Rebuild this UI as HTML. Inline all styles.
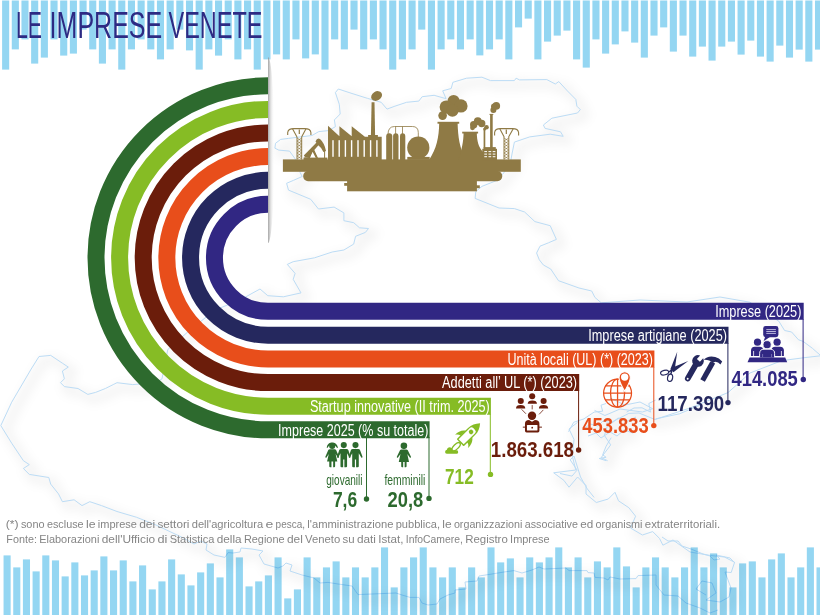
<!DOCTYPE html>
<html lang="it"><head><meta charset="utf-8"><title>Le imprese venete</title>
<style>html,body{margin:0;padding:0;background:#fff}svg{display:block}text{font-family:"Liberation Sans",sans-serif}</style></head><body>
<svg width="820" height="615" viewBox="0 0 820 615">
<defs>
<linearGradient id="fold" x1="0" x2="1" y1="0" y2="0">
<stop offset="0" stop-color="#fff" stop-opacity="0"/>
<stop offset="0.5" stop-color="#8f8f8f" stop-opacity="0"/>
<stop offset="0.5" stop-color="#8f8f8f" stop-opacity="0.8"/>
<stop offset="1" stop-color="#fff" stop-opacity="0"/>
</linearGradient>
<clipPath id="foldclip"><rect x="268" y="50" width="10" height="200"/></clipPath>
<filter id="mapsh" x="-10%" y="-10%" width="120%" height="120%"><feGaussianBlur stdDeviation="5"/></filter>
</defs>

<rect width="820" height="615" fill="#fff"/>
<g fill="none" stroke-linejoin="round">
<path d="M338.3,89 L352,93.5 L367.6,98.4 L381.2,102.3 L387,109.1 L394.9,106.2 L406.6,102.3 L418.8,101.1 L422.2,96.7 L434.1,95.3 L446.1,98.7 L442.7,90.8 L451.2,88.5 L452.9,82.3 L466.6,78.2 L481.9,77.2 L490.5,80.6 L514.4,80.6 L516.1,78.2 L519.5,79.9 L546.8,79.6 L555.3,84 L558.8,81.6 L567.3,90.8 L575.8,99.4 L576.9,106.2 L580.3,109.6 L577.5,113 L551.9,118.2 L543.4,125 L545.1,128.4 L560.5,131.8 L563.2,136.3 L550.2,134.2 L529.7,136.9 L514.4,142.1 L512,154 L510,165 L502.4,174.5 L499,179.6 L481.9,186.4 L475.8,191.6 L475.1,198.4 L499,208 L514.4,208.6 L524.6,212 L534.9,221.6 L550.2,225.7 L556.4,239.4 L548.5,242.8 L540,246.2 L536.6,253 L539.3,259.8 L543.4,265 L550.7,269 L558.5,280.7 L579,288 L591.7,291 L594.9,297.4 L601.2,302.8 L640,300 L687,302 L720,297 L749.8,302.2 L778.8,321.2 L784.6,330.5 L791.6,332 L798.5,339.8 L803,341.3 L812.4,348.3 L820.5,355.4 M338.3,89 L335.4,92.6 L339.3,104.3 L340.2,114 L334.4,119.9 L335.4,126.7 L328.5,130.6 L318.8,131.6 L312,135.5 L288.5,138.4 L280.7,139.4 L275.5,143.3 L274.9,148.2 L278.8,150.1 L289.5,151.1 L296,160 L300.2,172.6 L302.2,176.5 L293.4,180.4 L286.6,183.3 L288.5,190.1 L310.7,199.3 L318.5,209 L334.1,207.1 L343.9,212.9 L343.9,220.7 L353.7,222.7 L359.5,227.8 L368.5,228.5 L365.4,232.4 L355.6,236.3 L353.7,244.1 L343.9,250 L332.2,252 L314.6,257.8 L293.2,261.7 L287.3,264.4 L295.1,273.4 L293.2,279.3 L301,292.9 L283.4,296.8 L267.8,295.7 L260,289 L240,300 L215,310 L190,330 L167.8,349.5 L163.9,369 L162,378.8 L156,382.7 L132.7,384.6 L117,382.7 L113.2,384.6 L105.4,388.5 L95.6,392.4 L87.8,394.4 L78,388.5 L64.4,386.6 L60.5,382.7 L64.4,378.8 L62.4,371 L68.3,367.1 L62.4,363.2 L50.7,355.4 L39,356.5 L31.2,369 L11.7,402.2 L0.8,425.6 L11.7,443.2 L23.4,460.7 L29.3,464.6 L23.4,468.5 L29.3,474.4 L48.8,477.5 L50.7,484.1 L58.5,493.9 L62.4,501.7 L74.1,499.8 L82,505.6 L89.8,501.7 L101.5,505.6 L117,511.5 L136.6,517.3 L156,525 L183.4,538 L194,544 L201,541 L207,544 L206,550 L214,555 L225,557.4 L228,552.6 L233,553 L240,552 L241,548 L252,549 L263,551 L259,555 L264,564 L278,568 L283,566 L286,563 L292,565 L290,571 L302,575 L314,578 L320,583 L328,582.4 L338,584 L352,586 L358,594.6 L396,593 L402,595 L410,597.4 L419,597.4 L422,603 L428,605 L437,604 L440,599 L448,595 L455,593 L455,590 L466,589 L465,582 L477,581 L479,576 L492,574 L504,572 L514,570.6 L522,573 L532,570 L539,567 L544,569 L566,568 L569,570.6 L587,570.6 L588,572.6 L594,573 L595,577.4 L604,578 L608,580 L610,577 L620,579 L636,578.6 L638,575.6 L656,575 L656,585 L664,595 L678,596 L686,603 L700,608 L710,613 L718,610 M577.6,422.3 L569,429 L574,439.4 L572.4,456.5 L575.8,470 L553.7,472.8 L563.9,480.4 L569,487.2 L577.6,477 L586,485.5 L586,494 L596.3,502.5 L608.3,499 L615,492.3 L618.5,500.8 L628.8,507.7 L635.6,516.2 L630.5,528 L642.4,535 L652.7,531.6 L659.5,538.4 L662.9,545.2 L673,540 L680,545 L690,552 L710.7,555.5 L724.4,557 L734.6,562.3 L731.2,572.5 L725,572 L731,588 L729,597 L720,602 L706,600 L716,593 L712,583 L702,581 L696,589 L706,595 M607.6,460.7 L601.2,457.6 L610.7,444.9 L604.4,435.4 L608,424 L628.8,413.4 L639,413 L655,419.5 L690,408 L728,392.6 L750,373 L782,360.6 L805,357.6 L820.5,355.8 M594.6,410.4 L604.9,415.5 L620,409 L642.4,412 L652.7,408.7 L640,402 L625,405 L610,398 M662,537 L668,541 L678,541 L682,546 L691,549 L703,554 L710,556 L714,560 L720,559 L716,555 L730,558 L735,563 M568.5,431.7 L573.7,422.3 L583.9,418.9 L594.1,412.1 L602.7,411.2 L601,405.2 L606.1,403.5 M626.6,412.1 L634,408 L642,407.8 L650.5,412.1 L648.8,403.5 L655.6,400.1 M611.2,437.7 L606.1,446.2 L602.7,454.8 L606.1,457.3 L599.3,458.5 L606.1,460.7 M655.6,418.9 L679.5,413.8 L700,405.2 M560,473.5 L572,476.1 L577.1,470.1 L570.2,459.9 L574,456 L580.5,477 L587.3,488.9 L594.1,497.4 M585,428 L590,424 L598,426 L603,421 L612,423 L618,418 L628,421 L636,417 M588,436 L596,433 L601,438 L610,432 L617,436 L624,430 L633,433" stroke="#000" stroke-opacity="0.04" stroke-width="10" filter="url(#mapsh)" transform="translate(5,5)"/>
<path d="M338.3,89 L352,93.5 L367.6,98.4 L381.2,102.3 L387,109.1 L394.9,106.2 L406.6,102.3 L418.8,101.1 L422.2,96.7 L434.1,95.3 L446.1,98.7 L442.7,90.8 L451.2,88.5 L452.9,82.3 L466.6,78.2 L481.9,77.2 L490.5,80.6 L514.4,80.6 L516.1,78.2 L519.5,79.9 L546.8,79.6 L555.3,84 L558.8,81.6 L567.3,90.8 L575.8,99.4 L576.9,106.2 L580.3,109.6 L577.5,113 L551.9,118.2 L543.4,125 L545.1,128.4 L560.5,131.8 L563.2,136.3 L550.2,134.2 L529.7,136.9 L514.4,142.1 L512,154 L510,165 L502.4,174.5 L499,179.6 L481.9,186.4 L475.8,191.6 L475.1,198.4 L499,208 L514.4,208.6 L524.6,212 L534.9,221.6 L550.2,225.7 L556.4,239.4 L548.5,242.8 L540,246.2 L536.6,253 L539.3,259.8 L543.4,265 L550.7,269 L558.5,280.7 L579,288 L591.7,291 L594.9,297.4 L601.2,302.8 L640,300 L687,302 L720,297 L749.8,302.2 L778.8,321.2 L784.6,330.5 L791.6,332 L798.5,339.8 L803,341.3 L812.4,348.3 L820.5,355.4 M338.3,89 L335.4,92.6 L339.3,104.3 L340.2,114 L334.4,119.9 L335.4,126.7 L328.5,130.6 L318.8,131.6 L312,135.5 L288.5,138.4 L280.7,139.4 L275.5,143.3 L274.9,148.2 L278.8,150.1 L289.5,151.1 L296,160 L300.2,172.6 L302.2,176.5 L293.4,180.4 L286.6,183.3 L288.5,190.1 L310.7,199.3 L318.5,209 L334.1,207.1 L343.9,212.9 L343.9,220.7 L353.7,222.7 L359.5,227.8 L368.5,228.5 L365.4,232.4 L355.6,236.3 L353.7,244.1 L343.9,250 L332.2,252 L314.6,257.8 L293.2,261.7 L287.3,264.4 L295.1,273.4 L293.2,279.3 L301,292.9 L283.4,296.8 L267.8,295.7 L260,289 L240,300 L215,310 L190,330 L167.8,349.5 L163.9,369 L162,378.8 L156,382.7 L132.7,384.6 L117,382.7 L113.2,384.6 L105.4,388.5 L95.6,392.4 L87.8,394.4 L78,388.5 L64.4,386.6 L60.5,382.7 L64.4,378.8 L62.4,371 L68.3,367.1 L62.4,363.2 L50.7,355.4 L39,356.5 L31.2,369 L11.7,402.2 L0.8,425.6 L11.7,443.2 L23.4,460.7 L29.3,464.6 L23.4,468.5 L29.3,474.4 L48.8,477.5 L50.7,484.1 L58.5,493.9 L62.4,501.7 L74.1,499.8 L82,505.6 L89.8,501.7 L101.5,505.6 L117,511.5 L136.6,517.3 L156,525 L183.4,538 L194,544 L201,541 L207,544 L206,550 L214,555 L225,557.4 L228,552.6 L233,553 L240,552 L241,548 L252,549 L263,551 L259,555 L264,564 L278,568 L283,566 L286,563 L292,565 L290,571 L302,575 L314,578 L320,583 L328,582.4 L338,584 L352,586 L358,594.6 L396,593 L402,595 L410,597.4 L419,597.4 L422,603 L428,605 L437,604 L440,599 L448,595 L455,593 L455,590 L466,589 L465,582 L477,581 L479,576 L492,574 L504,572 L514,570.6 L522,573 L532,570 L539,567 L544,569 L566,568 L569,570.6 L587,570.6 L588,572.6 L594,573 L595,577.4 L604,578 L608,580 L610,577 L620,579 L636,578.6 L638,575.6 L656,575 L656,585 L664,595 L678,596 L686,603 L700,608 L710,613 L718,610 M577.6,422.3 L569,429 L574,439.4 L572.4,456.5 L575.8,470 L553.7,472.8 L563.9,480.4 L569,487.2 L577.6,477 L586,485.5 L586,494 L596.3,502.5 L608.3,499 L615,492.3 L618.5,500.8 L628.8,507.7 L635.6,516.2 L630.5,528 L642.4,535 L652.7,531.6 L659.5,538.4 L662.9,545.2 L673,540 L680,545 L690,552 L710.7,555.5 L724.4,557 L734.6,562.3 L731.2,572.5 L725,572 L731,588 L729,597 L720,602 L706,600 L716,593 L712,583 L702,581 L696,589 L706,595 M607.6,460.7 L601.2,457.6 L610.7,444.9 L604.4,435.4 L608,424 L628.8,413.4 L639,413 L655,419.5 L690,408 L728,392.6 L750,373 L782,360.6 L805,357.6 L820.5,355.8 M594.6,410.4 L604.9,415.5 L620,409 L642.4,412 L652.7,408.7 L640,402 L625,405 L610,398 M662,537 L668,541 L678,541 L682,546 L691,549 L703,554 L710,556 L714,560 L720,559 L716,555 L730,558 L735,563 M568.5,431.7 L573.7,422.3 L583.9,418.9 L594.1,412.1 L602.7,411.2 L601,405.2 L606.1,403.5 M626.6,412.1 L634,408 L642,407.8 L650.5,412.1 L648.8,403.5 L655.6,400.1 M611.2,437.7 L606.1,446.2 L602.7,454.8 L606.1,457.3 L599.3,458.5 L606.1,460.7 M655.6,418.9 L679.5,413.8 L700,405.2 M560,473.5 L572,476.1 L577.1,470.1 L570.2,459.9 L574,456 L580.5,477 L587.3,488.9 L594.1,497.4 M585,428 L590,424 L598,426 L603,421 L612,423 L618,418 L628,421 L636,417 M588,436 L596,433 L601,438 L610,432 L617,436 L624,430 L633,433" stroke="#bcdcf5" stroke-width="1"/>
</g>
<g fill="#94d6f2" style="mix-blend-mode:multiply">
<rect x="2.10" y="0.5" width="7.1" height="69.1"/>
<rect x="11.78" y="0.5" width="7.1" height="48.9"/>
<rect x="21.45" y="0.5" width="7.1" height="38.9"/>
<rect x="31.13" y="0.5" width="7.1" height="63.1"/>
<rect x="40.81" y="0.5" width="7.1" height="57.1"/>
<rect x="50.48" y="0.5" width="7.1" height="38.9"/>
<rect x="60.16" y="0.5" width="7.1" height="55.1"/>
<rect x="69.84" y="0.5" width="7.1" height="53.1"/>
<rect x="79.52" y="0.5" width="7.1" height="29.1"/>
<rect x="89.19" y="0.5" width="7.1" height="48.9"/>
<rect x="98.87" y="0.5" width="7.1" height="63.1"/>
<rect x="108.55" y="0.5" width="7.1" height="48.9"/>
<rect x="118.22" y="0.5" width="7.1" height="69.1"/>
<rect x="127.90" y="0.5" width="7.1" height="48.9"/>
<rect x="137.58" y="0.5" width="7.1" height="38.9"/>
<rect x="147.25" y="0.5" width="7.1" height="48.9"/>
<rect x="156.93" y="0.5" width="7.1" height="58.9"/>
<rect x="166.61" y="0.5" width="7.1" height="48.9"/>
<rect x="176.29" y="0.5" width="7.1" height="29.1"/>
<rect x="185.96" y="0.5" width="7.1" height="49.9"/>
<rect x="195.64" y="0.5" width="7.1" height="69.1"/>
<rect x="205.32" y="0.5" width="7.1" height="48.9"/>
<rect x="214.99" y="0.5" width="7.1" height="55.1"/>
<rect x="224.67" y="0.5" width="7.1" height="38.9"/>
<rect x="234.35" y="0.5" width="7.1" height="58.9"/>
<rect x="244.02" y="0.5" width="7.1" height="48.9"/>
<rect x="253.70" y="0.5" width="7.1" height="69.1"/>
<rect x="263.38" y="0.5" width="7.1" height="58.9"/>
<rect x="273.06" y="0.5" width="7.1" height="53.9"/>
<rect x="282.73" y="0.5" width="7.1" height="58.9"/>
<rect x="292.41" y="0.5" width="7.1" height="38.9"/>
<rect x="302.09" y="0.5" width="7.1" height="57.9"/>
<rect x="311.76" y="0.5" width="7.1" height="53.9"/>
<rect x="321.44" y="0.5" width="7.1" height="69.1"/>
<rect x="331.12" y="0.5" width="7.1" height="38.9"/>
<rect x="340.80" y="0.5" width="7.1" height="48.9"/>
<rect x="350.47" y="0.5" width="7.1" height="29.1"/>
<rect x="360.15" y="0.5" width="7.1" height="48.9"/>
<rect x="369.83" y="0.5" width="7.1" height="38.9"/>
<rect x="379.50" y="0.5" width="7.1" height="48.9"/>
<rect x="389.18" y="0.5" width="7.1" height="69.1"/>
<rect x="398.86" y="0.5" width="7.1" height="58.9"/>
<rect x="408.53" y="0.5" width="7.1" height="48.9"/>
<rect x="418.21" y="0.5" width="7.1" height="29.1"/>
<rect x="427.89" y="0.5" width="7.1" height="69.1"/>
<rect x="437.56" y="0.5" width="7.1" height="48.9"/>
<rect x="447.24" y="0.5" width="7.1" height="38.9"/>
<rect x="456.92" y="0.5" width="7.1" height="48.9"/>
<rect x="466.60" y="0.5" width="7.1" height="38.9"/>
<rect x="476.27" y="0.5" width="7.1" height="54.9"/>
<rect x="485.95" y="0.5" width="7.1" height="48.9"/>
<rect x="495.63" y="0.5" width="7.1" height="38.9"/>
<rect x="505.30" y="0.5" width="7.1" height="58.9"/>
<rect x="514.98" y="0.5" width="7.1" height="26.9"/>
<rect x="524.66" y="0.5" width="7.1" height="18.1"/>
<rect x="534.34" y="0.5" width="7.1" height="58.9"/>
<rect x="544.01" y="0.5" width="7.1" height="41.1"/>
<rect x="553.69" y="0.5" width="7.1" height="35.1"/>
<rect x="563.37" y="0.5" width="7.1" height="30.1"/>
<rect x="573.04" y="0.5" width="7.1" height="58.9"/>
<rect x="582.72" y="0.5" width="7.1" height="67.1"/>
<rect x="592.40" y="0.5" width="7.1" height="38.9"/>
<rect x="602.07" y="0.5" width="7.1" height="53.1"/>
<rect x="611.75" y="0.5" width="7.1" height="43.9"/>
<rect x="621.43" y="0.5" width="7.1" height="30.9"/>
<rect x="631.11" y="0.5" width="7.1" height="42.1"/>
<rect x="640.78" y="0.5" width="7.1" height="57.1"/>
<rect x="650.46" y="0.5" width="7.1" height="35.1"/>
<rect x="660.14" y="0.5" width="7.1" height="26.9"/>
<rect x="669.81" y="0.5" width="7.1" height="51.1"/>
<rect x="679.49" y="0.5" width="7.1" height="35.1"/>
<rect x="689.17" y="0.5" width="7.1" height="56.1"/>
<rect x="698.84" y="0.5" width="7.1" height="46.1"/>
<rect x="708.52" y="0.5" width="7.1" height="60.1"/>
<rect x="718.20" y="0.5" width="7.1" height="46.1"/>
<rect x="727.88" y="0.5" width="7.1" height="41.1"/>
<rect x="737.55" y="0.5" width="7.1" height="54.1"/>
<rect x="747.23" y="0.5" width="7.1" height="40.1"/>
<rect x="756.91" y="0.5" width="7.1" height="56.1"/>
<rect x="766.58" y="0.5" width="7.1" height="61.1"/>
<rect x="776.26" y="0.5" width="7.1" height="45.1"/>
<rect x="785.94" y="0.5" width="7.1" height="57.1"/>
<rect x="795.61" y="0.5" width="7.1" height="49.1"/>
<rect x="805.29" y="0.5" width="7.1" height="61.1"/>
<rect x="814.97" y="0.5" width="7.1" height="49.1"/>
<rect x="3.55" y="555.4" width="7.1" height="60.6"/>
<rect x="13.23" y="567.4" width="7.1" height="48.6"/>
<rect x="22.91" y="559.4" width="7.1" height="56.6"/>
<rect x="32.58" y="571.4" width="7.1" height="44.6"/>
<rect x="42.26" y="555.4" width="7.1" height="60.6"/>
<rect x="51.94" y="560.4" width="7.1" height="55.6"/>
<rect x="61.62" y="576.4" width="7.1" height="39.6"/>
<rect x="71.30" y="562.4" width="7.1" height="53.6"/>
<rect x="80.97" y="575.4" width="7.1" height="40.6"/>
<rect x="90.65" y="570.4" width="7.1" height="45.6"/>
<rect x="100.33" y="556.4" width="7.1" height="59.6"/>
<rect x="110.01" y="570.4" width="7.1" height="45.6"/>
<rect x="119.69" y="560.4" width="7.1" height="55.6"/>
<rect x="129.36" y="581.4" width="7.1" height="34.6"/>
<rect x="139.04" y="565.4" width="7.1" height="50.6"/>
<rect x="148.72" y="589.4" width="7.1" height="26.6"/>
<rect x="158.40" y="581.4" width="7.1" height="34.6"/>
<rect x="168.08" y="559.4" width="7.1" height="56.6"/>
<rect x="177.75" y="574.4" width="7.1" height="41.6"/>
<rect x="187.43" y="585.4" width="7.1" height="30.6"/>
<rect x="197.11" y="572.4" width="7.1" height="43.6"/>
<rect x="206.79" y="563.4" width="7.1" height="52.6"/>
<rect x="216.47" y="577.4" width="7.1" height="38.6"/>
<rect x="226.14" y="549.4" width="7.1" height="66.6"/>
<rect x="235.82" y="557.4" width="7.1" height="58.6"/>
<rect x="245.50" y="586.4" width="7.1" height="29.6"/>
<rect x="255.18" y="581.4" width="7.1" height="34.6"/>
<rect x="264.86" y="575.4" width="7.1" height="40.6"/>
<rect x="274.53" y="557.4" width="7.1" height="58.6"/>
<rect x="284.21" y="598.4" width="7.1" height="17.6"/>
<rect x="293.89" y="589.4" width="7.1" height="26.6"/>
<rect x="303.57" y="557.4" width="7.1" height="58.6"/>
<rect x="313.25" y="577.4" width="7.1" height="38.6"/>
<rect x="322.92" y="567.4" width="7.1" height="48.6"/>
<rect x="332.60" y="561.4" width="7.1" height="54.6"/>
<rect x="342.28" y="577.4" width="7.1" height="38.6"/>
<rect x="351.96" y="567.4" width="7.1" height="48.6"/>
<rect x="361.64" y="577.4" width="7.1" height="38.6"/>
<rect x="371.31" y="567.4" width="7.1" height="48.6"/>
<rect x="380.99" y="547.4" width="7.1" height="68.6"/>
<rect x="390.67" y="587.4" width="7.1" height="28.6"/>
<rect x="400.35" y="567.4" width="7.1" height="48.6"/>
<rect x="410.03" y="557.4" width="7.1" height="58.6"/>
<rect x="419.70" y="547.4" width="7.1" height="68.6"/>
<rect x="429.38" y="567.4" width="7.1" height="48.6"/>
<rect x="439.06" y="577.4" width="7.1" height="38.6"/>
<rect x="448.74" y="567.4" width="7.1" height="48.6"/>
<rect x="458.42" y="587.4" width="7.1" height="28.6"/>
<rect x="468.09" y="567.4" width="7.1" height="48.6"/>
<rect x="477.77" y="577.4" width="7.1" height="38.6"/>
<rect x="487.45" y="547.4" width="7.1" height="68.6"/>
<rect x="497.13" y="562.4" width="7.1" height="53.6"/>
<rect x="506.81" y="558.4" width="7.1" height="57.6"/>
<rect x="516.48" y="577.4" width="7.1" height="38.6"/>
<rect x="526.16" y="557.4" width="7.1" height="58.6"/>
<rect x="535.84" y="562.4" width="7.1" height="53.6"/>
<rect x="545.52" y="557.4" width="7.1" height="58.6"/>
<rect x="555.20" y="547.4" width="7.1" height="68.6"/>
<rect x="564.87" y="567.4" width="7.1" height="48.6"/>
<rect x="574.55" y="557.4" width="7.1" height="58.6"/>
<rect x="584.23" y="577.4" width="7.1" height="38.6"/>
<rect x="593.91" y="561.4" width="7.1" height="54.6"/>
<rect x="603.59" y="567.4" width="7.1" height="48.6"/>
<rect x="613.26" y="547.4" width="7.1" height="68.6"/>
<rect x="622.94" y="566.4" width="7.1" height="49.6"/>
<rect x="632.62" y="587.4" width="7.1" height="28.6"/>
<rect x="642.30" y="567.4" width="7.1" height="48.6"/>
<rect x="651.98" y="557.4" width="7.1" height="58.6"/>
<rect x="661.65" y="567.4" width="7.1" height="48.6"/>
<rect x="671.33" y="577.4" width="7.1" height="38.6"/>
<rect x="681.01" y="567.4" width="7.1" height="48.6"/>
<rect x="690.69" y="547.4" width="7.1" height="68.6"/>
<rect x="700.37" y="567.4" width="7.1" height="48.6"/>
<rect x="710.04" y="553.4" width="7.1" height="62.6"/>
<rect x="719.72" y="567.4" width="7.1" height="48.6"/>
<rect x="729.40" y="587.4" width="7.1" height="28.6"/>
<rect x="739.08" y="563.4" width="7.1" height="52.6"/>
<rect x="748.76" y="561.4" width="7.1" height="54.6"/>
<rect x="758.43" y="577.4" width="7.1" height="38.6"/>
<rect x="768.11" y="559.4" width="7.1" height="56.6"/>
<rect x="777.79" y="553.4" width="7.1" height="62.6"/>
<rect x="787.47" y="577.4" width="7.1" height="38.6"/>
<rect x="797.15" y="567.4" width="7.1" height="48.6"/>
<rect x="806.82" y="547.4" width="7.1" height="68.6"/>
<rect x="816.50" y="567.4" width="7.1" height="48.6"/>
</g>
<ellipse cx="268" cy="150" rx="6.5" ry="93" fill="url(#fold)" clip-path="url(#foldclip)"/>
<g fill="none" stroke-width="17">
<path d="M268,204.25 A53.55,53.55 0 0 0 268,311.35 L803.7,311.35" stroke="#312783"/>
<path d="M268,180.35 A77.45,77.45 0 0 0 268,335.25 L728.5,335.25" stroke="#25285e"/>
<path d="M268,156.60 A101.20,101.20 0 0 0 268,359.00 L654.4,359.00" stroke="#e84e1b"/>
<path d="M268,133.00 A124.80,124.80 0 0 0 268,382.60 L579.2,382.60" stroke="#6b1d0b"/>
<path d="M268,109.40 A148.40,148.40 0 0 0 268,406.20 L490.9,406.20" stroke="#86bc25"/>
<path d="M268,85.80 A172.00,172.00 0 0 0 268,429.80 L429.6,429.80" stroke="#2d6a2e"/>
</g>
<!-- connector lines and dots -->
<g stroke-width="1" fill="none">
<path d="M803.1,319 V379.5" stroke="#312783"/>
<path d="M727.9,343 V402.5" stroke="#25285e"/>
<path d="M653.8,367 V425.6" stroke="#e84e1b"/>
<path d="M578.6,390 V450" stroke="#6b1d0b"/>
<path d="M490.3,414 V474.4" stroke="#86bc25"/>
<path d="M429,437 V498.5" stroke="#2d6a2e"/>
<path d="M366.5,437 V499" stroke="#2d6a2e"/>
</g>
<circle cx="803.3" cy="379.5" r="2.7" fill="#312783"/>
<circle cx="728" cy="402.6" r="2.7" fill="#25285e"/>
<circle cx="653.8" cy="425.6" r="2.7" fill="#e84e1b"/>
<circle cx="578.6" cy="450" r="2.7" fill="#6b1d0b"/>
<circle cx="490.5" cy="474.4" r="2.7" fill="#86bc25"/>
<circle cx="429" cy="498.4" r="2.7" fill="#2d6a2e"/>
<circle cx="366.5" cy="499" r="2.7" fill="#2d6a2e"/>
<!-- bar labels -->
<g fill="#fff" font-size="16" lengthAdjust="spacingAndGlyphs">
<text x="715.2" y="317.2" textLength="86.2" lengthAdjust="spacingAndGlyphs">Imprese (2025)</text>
<text x="588.2" y="341" textLength="138.8" lengthAdjust="spacingAndGlyphs">Imprese artigiane (2025)</text>
<text x="507.4" y="364.7" textLength="145.5" lengthAdjust="spacingAndGlyphs">Unità locali (UL) (*) (2023)</text>
<text x="442.1" y="388.4" textLength="135" lengthAdjust="spacingAndGlyphs">Addetti all’ UL (*) (2023)</text>
<text x="309.9" y="412" textLength="179.9" lengthAdjust="spacingAndGlyphs">Startup innovative (II trim. 2025)</text>
<text x="278.1" y="435.5" textLength="150.3" lengthAdjust="spacingAndGlyphs">Imprese 2025 (% su totale)</text>
</g>
<!-- numbers -->
<g font-size="22" font-weight="bold">
<text x="731.5" y="386.3" textLength="66.3" lengthAdjust="spacingAndGlyphs" fill="#312783">414.085</text>
<text x="657.6" y="410.9" textLength="66.6" lengthAdjust="spacingAndGlyphs" fill="#25285e">117.390</text>
<text x="582.3" y="433.2" textLength="66.3" lengthAdjust="spacingAndGlyphs" fill="#e84e1b">453.833</text>
<text x="490.8" y="457.3" textLength="83.2" lengthAdjust="spacingAndGlyphs" fill="#6b1d0b">1.863.618</text>
<text x="445" y="484.3" textLength="28.7" lengthAdjust="spacingAndGlyphs" fill="#86bc25">712</text>
<text x="387.6" y="507" textLength="35.7" lengthAdjust="spacingAndGlyphs" fill="#2d6a2e">20,8</text>
<text x="332.9" y="507" textLength="24.3" lengthAdjust="spacingAndGlyphs" fill="#2d6a2e">7,6</text>
</g>
<g font-size="14.3" fill="#2d6a2e">
<text x="326.2" y="484.6" textLength="36.4" lengthAdjust="spacingAndGlyphs">giovanili</text>
<text x="384.4" y="484.6" textLength="41" lengthAdjust="spacingAndGlyphs">femminili</text>
</g>
<!-- title -->
<g font-size="36.4" fill="#2d2a83">
<text x="16" y="37.8" textLength="26" lengthAdjust="spacingAndGlyphs">LE</text>
<text x="49.6" y="37.8" textLength="112.6" lengthAdjust="spacingAndGlyphs">IMPRESE</text>
<text x="168.6" y="37.8" textLength="93.8" lengthAdjust="spacingAndGlyphs">VENETE</text>
</g>
<!-- footer -->
<g font-size="10.3" fill="#858585">
<text x="5.7" y="527.5" textLength="12.9" lengthAdjust="spacingAndGlyphs">(*)</text>
<text x="20.9" y="527.5" textLength="23.7" lengthAdjust="spacingAndGlyphs">sono</text>
<text x="46.9" y="527.5" textLength="36.7" lengthAdjust="spacingAndGlyphs">escluse</text>
<text x="85.9" y="527.5" textLength="9.6" lengthAdjust="spacingAndGlyphs">le</text>
<text x="97.8" y="527.5" textLength="39.1" lengthAdjust="spacingAndGlyphs">imprese</text>
<text x="139.2" y="527.5" textLength="16.0" lengthAdjust="spacingAndGlyphs">dei</text>
<text x="157.5" y="527.5" textLength="31.9" lengthAdjust="spacingAndGlyphs">settori</text>
<text x="191.7" y="527.5" textLength="71.5" lengthAdjust="spacingAndGlyphs">dell'agricoltura</text>
<text x="265.5" y="527.5" textLength="7.8" lengthAdjust="spacingAndGlyphs">e</text>
<text x="275.6" y="527.5" textLength="29.4" lengthAdjust="spacingAndGlyphs">pesca,</text>
<text x="307.3" y="527.5" textLength="86.1" lengthAdjust="spacingAndGlyphs">l'amministrazione</text>
<text x="395.7" y="527.5" textLength="44.3" lengthAdjust="spacingAndGlyphs">pubblica,</text>
<text x="442.3" y="527.5" textLength="9.3" lengthAdjust="spacingAndGlyphs">le</text>
<text x="453.9" y="527.5" textLength="68.5" lengthAdjust="spacingAndGlyphs">organizzazioni</text>
<text x="524.7" y="527.5" textLength="53.2" lengthAdjust="spacingAndGlyphs">associative</text>
<text x="580.2" y="527.5" textLength="13.0" lengthAdjust="spacingAndGlyphs">ed</text>
<text x="595.5" y="527.5" textLength="47.0" lengthAdjust="spacingAndGlyphs">organismi</text>
<text x="644.8" y="527.5" textLength="75.3" lengthAdjust="spacingAndGlyphs">extraterritoriali.</text>
<text x="6.3" y="542.7" textLength="30.6" lengthAdjust="spacingAndGlyphs">Fonte:</text>
<text x="39.2" y="542.7" textLength="60.2" lengthAdjust="spacingAndGlyphs">Elaborazioni</text>
<text x="101.7" y="542.7" textLength="53.5" lengthAdjust="spacingAndGlyphs">dell'Ufficio</text>
<text x="157.5" y="542.7" textLength="9.9" lengthAdjust="spacingAndGlyphs">di</text>
<text x="169.7" y="542.7" textLength="44.7" lengthAdjust="spacingAndGlyphs">Statistica</text>
<text x="216.7" y="542.7" textLength="24.9" lengthAdjust="spacingAndGlyphs">della</text>
<text x="243.9" y="542.7" textLength="40.7" lengthAdjust="spacingAndGlyphs">Regione</text>
<text x="286.9" y="542.7" textLength="15.9" lengthAdjust="spacingAndGlyphs">del</text>
<text x="305.1" y="542.7" textLength="35.2" lengthAdjust="spacingAndGlyphs">Veneto</text>
<text x="342.6" y="542.7" textLength="12.1" lengthAdjust="spacingAndGlyphs">su</text>
<text x="357.0" y="542.7" textLength="19.0" lengthAdjust="spacingAndGlyphs">dati</text>
<text x="378.3" y="542.7" textLength="25.2" lengthAdjust="spacingAndGlyphs">Istat,</text>
<text x="405.8" y="542.7" textLength="57.1" lengthAdjust="spacingAndGlyphs">InfoCamere,</text>
<text x="465.2" y="542.7" textLength="42.6" lengthAdjust="spacingAndGlyphs">Registro</text>
<text x="510.1" y="542.7" textLength="39.6" lengthAdjust="spacingAndGlyphs">Imprese</text>
</g>
<!-- people meeting icon -->
<g fill="#312783">
<rect x="763.2" y="326" width="15.2" height="11.2" rx="2.4"/>
<path d="M765.2,336.5 L770.6,336.5 L763.6,341.2 Z"/>
<g stroke="#c9c6e6" stroke-width="0.9"><path d="M766.3,329.6H775.9M766.3,331.5H775.9M766.3,333.4H775.9"/></g>
<circle cx="757.5" cy="342.2" r="3.6"/>
<circle cx="777.1" cy="342.2" r="3.6"/>
<path d="M751,356 V350.6 Q751,346.8 754.8,346.8 H759.6 Q763.4,346.8 763.4,350.6 V356 Z"/>
<path d="M771.4,356 V350.6 Q771.4,346.8 775.2,346.8 H780.1 Q783.9,346.8 783.9,350.6 V356 Z"/>
<g stroke="#fff" stroke-width="0.8"><path d="M753.6,351V356M761,351V356M774,351V356M781.4,351V356"/></g>
<circle cx="767.1" cy="344.7" r="4.1" stroke="#fff" stroke-width="0.9"/>
<path d="M759.6,358 V353.6 Q759.6,349.2 764,349.2 H770.2 Q774.6,349.2 774.6,353.6 V358 Z" stroke="#fff" stroke-width="0.9"/>
<g stroke="#8f8ac4" stroke-width="0.7"><path d="M762.6,354V357.6M771.6,354V357.6"/></g>
<path d="M749.6,357.5 H785.2 L787.2,362.2 H747.5 Z"/>
</g>
<!-- tools icon -->
<g transform="translate(650,345) scale(0.09756)" fill="#25285e" stroke="none">
<path d="M279,68 L252,264 L208,250 Z"/>
<path d="M392,165 L240,280 L212,238 Z"/>
<path d="M228,252 L196,275 M228,256 L212,300" stroke="#25285e" stroke-width="14" fill="none"/>
<ellipse cx="150" cy="283" rx="42" ry="23" transform="rotate(-14 150 283)" fill="none" stroke="#25285e" stroke-width="12"/>
<ellipse cx="206" cy="336" rx="26" ry="38" transform="rotate(10 206 336)" fill="none" stroke="#25285e" stroke-width="12"/>
<!-- wrench -->
<path d="M472,196 L388,342" stroke="#25285e" stroke-width="60" stroke-linecap="round" fill="none"/>
<g transform="translate(492,163) rotate(42)">
<path d="M-21,-56 L-21,-6 L21,-6 L21,-56 A60,60 0 1 1 -21,-56 Z"/>
</g>
<circle cx="386" cy="346" r="10" fill="#fff"/>
<!-- hammer -->
<path d="M618,168 L668,190 L562,376 L516,352 Z"/>
<path d="M551,152 C572,126 618,108 668,124 L706,138 L740,170 L722,200 L698,180 L668,172 L640,186 C622,160 590,150 551,152 Z"/>
</g>
<!-- globe with pin -->
<g transform="translate(580,365) scale(0.09756)" fill="none" stroke="#e84e1b" stroke-width="13">
<circle cx="385" cy="288" r="143"/>
<ellipse cx="385" cy="288" rx="72" ry="143"/>
<path d="M385,145 V431 M242,288 H528 M262,215 H508 M262,357 H508"/>
<path d="M458,270 C430,215 400,170 400,127 A58,58 0 0 1 516,127 C516,170 486,215 458,270 Z" fill="#e84e1b" stroke="#fff" stroke-width="11"/>
<circle cx="458" cy="124" r="38" fill="#fff" stroke="none"/>
</g>
<!-- network of people icon -->
<g transform="translate(500,385) scale(0.09756)" fill="#6b1d0b" stroke="none">
<circle cx="330" cy="115" r="31"/>
<path d="M284,193 Q284,158 331,158 Q379,158 379,193 Z"/>
<circle cx="213" cy="165" r="31"/>
<path d="M164,241 Q164,206 211,206 Q259,206 259,241 Z"/>
<circle cx="447" cy="165" r="31"/>
<path d="M399,241 Q399,206 446,206 Q494,206 494,241 Z"/>
<path d="M330,206 V250 M222,250 L266,295 M444,255 L401,301" stroke="#6b1d0b" stroke-width="8" fill="none"/>
<circle cx="328" cy="315" r="43"/>
<path d="M256,470 V398 Q256,360 298,360 L328,376 L358,360 Q404,360 404,398 V470 Q404,486 388,486 H272 Q256,486 256,470 Z"/>
<path d="M234,432 H262 M400,432 H430" stroke="#6b1d0b" stroke-width="10" fill="none"/>
<rect x="276" y="410" width="108" height="56" rx="6" fill="#fff"/>
<circle cx="330" cy="438" r="9"/>
</g>
<!-- rocket icon -->
<g transform="translate(440,418) scale(0.06504)" fill="#86bc25" stroke="none">
<path d="M78,522 Q78,494 106,490 Q112,448 152,448 Q186,450 198,484 L272,500 Q292,548 258,550 H104 Q78,550 78,522 Z"/>
<g transform="translate(478,215) rotate(45.5)">
<!-- fins -->
<path d="M-70,44 C-120,76 -146,140 -142,208 C-128,176 -104,158 -70,156 Z"/>
<path d="M70,44 C120,76 146,140 142,208 C128,176 104,158 70,156 Z"/>
<!-- flame -->
<ellipse cx="0" cy="322" rx="37" ry="80" fill="#fff" stroke="#86bc25" stroke-width="21"/>
<!-- body -->
<path d="M0,-194 C48,-140 77,-80 77,-10 V222 Q77,236 63,236 H-63 Q-77,236 -77,222 V-10 C-77,-80 -48,-140 0,-194 Z"/>
<path d="M-56,214 V-30 Q-56,-66 -20,-66 H20 Q56,-66 56,-30 V214 Z" fill="#fff"/>
<circle cx="0" cy="0" r="35"/>
</g>
</g>
<!-- kids and woman icons -->
<g transform="translate(320,435) scale(0.12195)" fill="#2d6a2e" stroke="none">
<!-- girl -->
<circle cx="100" cy="90" r="25"/>
<path d="M56,100 C60,72 82,62 100,62 C118,62 140,72 146,100 C150,108 138,108 134,98 C126,84 112,80 100,80 C88,80 74,84 66,98 C62,108 52,108 56,100 Z"/>
<path d="M80,116 H120 Q128,116 132,124 L156,178 Q158,188 148,186 L128,156 L142,218 H124 V256 Q124,264 116,264 H108 V218 H94 V264 H84 Q76,264 76,256 V218 H58 L72,156 L52,186 Q42,188 44,178 L68,124 Q72,116 80,116 Z"/>
<!-- boy 1 -->
<circle cx="195" cy="83" r="25"/>
<path d="M172,114 H218 Q228,114 232,124 L250,176 Q252,188 242,186 L222,150 V256 Q222,264 214,264 H200 V200 H190 V264 H176 Q168,264 168,256 V150 L148,186 Q138,188 140,176 L158,124 Q162,114 172,114 Z"/>
<!-- boy 2 -->
<circle cx="291" cy="83" r="25"/>
<path d="M268,114 H314 Q324,114 328,124 L348,176 Q350,188 340,186 L318,150 V256 Q318,264 310,264 H296 V200 H286 V264 H272 Q264,264 264,256 V150 L244,186 Q234,188 236,176 L254,124 Q258,114 268,114 Z"/>
<!-- woman -->
<circle cx="688" cy="89" r="27"/>
<path d="M668,118 H708 Q716,118 720,126 L746,178 Q748,188 738,186 L716,156 L730,222 H710 V256 Q710,264 702,264 H694 V222 H682 V264 H674 Q666,264 666,256 V222 H646 L660,156 L638,186 Q628,188 630,178 L656,126 Q660,118 668,118 Z"/>
</g>
<!-- factory skyline -->
<g fill="#8f7a45" stroke="none">
<!-- base slabs -->
<rect x="282.9" y="159.4" width="237.9" height="12.4"/>
<rect x="303.2" y="171" width="199" height="10.2" rx="4.8"/>
<rect x="347.1" y="180" width="129.8" height="11.3"/>
<rect x="344.2" y="183" width="4" height="2.8"/>
<rect x="476" y="185.3" width="3.8" height="2.9"/>
<!-- left pylon -->
<g fill="none" stroke="#8f7a45">
<path d="M287.7,135 V132.5 Q288,128.6 294,128.6 H304.5 Q310.6,128.6 310.9,132.5 V135" stroke-width="1.1"/>
<path d="M292.5,128.8 L297,137 M306,128.8 L301.6,137" stroke-width="1.1"/>
<path d="M299.3,129.5 V134" stroke-width="1.2"/>
<path d="M297,137 V159.5 M301.7,137 V159.5" stroke-width="1"/>
<path d="M297,138 L301.7,141 L297,144 L301.7,147 L297,150 L301.7,153 L297,156 L301.7,159 M301.7,138 L297,141 L301.7,144 L297,147 L301.7,150 L297,153 L301.7,156 L297,159" stroke-width="0.7"/>
</g>
<!-- pump jack -->
<path d="M304,157.5 L318,141.5 L320,143.5 L309,156 L313,149 L317.5,157.5 L315.8,158 L312.6,151.8 L309.5,158 Z"/>
<path d="M304.5,156.2 L318.5,142" stroke="#8f7a45" stroke-width="2" fill="none"/>
<path d="M309,158.5 L313,148.5 L317.5,158.5" stroke="#8f7a45" stroke-width="1.2" fill="none"/>
<path d="M315.5,141.5 Q317,137.5 320,139 Q324.5,143 326,151 L323.4,152 Q321,147 318.5,145.5 Z"/>
<path d="M324.6,151 V158" stroke="#8f7a45" stroke-width="1" fill="none"/>
<rect x="303.5" y="157.6" width="24" height="2.4"/>
<!-- sawtooth factory -->
<path d="M328,160 V125.8 L339.4,136.3 V126.2 L351.7,136.3 V126.2 L364.9,136.8 H381.7 V160 Z"/>
<g fill="#fff">
<rect x="332.3" y="140.2" width="1.4" height="16.6"/><rect x="338.5" y="140.2" width="1.4" height="16.6"/>
<rect x="344.7" y="140.2" width="1.4" height="16.6"/><rect x="350.9" y="140.2" width="1.4" height="16.6"/>
<rect x="357.3" y="140.2" width="1.4" height="16.6"/><rect x="363.5" y="140.2" width="1.4" height="16.6"/>
<rect x="369.9" y="140.2" width="1.4" height="16.6"/><rect x="376.2" y="140.2" width="1.4" height="16.6"/>
</g>
<!-- chimney -->
<path d="M371.6,102.2 H374.5 L375.1,136 H370.9 Z"/>
<rect x="368.1" y="135" width="9.8" height="2.4"/>
<ellipse cx="376.6" cy="96" rx="5.8" ry="4.5" transform="rotate(-32 376.6 96)"/>
<!-- tanks -->
<path d="M386.2,160 V136.4 Q386.2,133.3 389.2,133.3 Q392.3,133.3 392.3,136.4 V160 Z"/>
<path d="M393.1,160 V136.4 Q393.1,133.3 395.8,133.3 Q398.5,133.3 398.5,136.4 V160 Z"/>
<path d="M400,160 V136.4 Q400,133.3 402.6,133.3 Q405.3,133.3 405.3,136.4 V160 Z"/>
<path d="M388,134.5 Q388,126.5 394.5,126.5 H412.4 Q418.3,126.5 418.3,132.6 V138 M395.6,126.5 V134 M402.5,126.5 V134" fill="none" stroke="#8f7a45" stroke-width="0.8"/>
<circle cx="418.3" cy="147.7" r="11.1"/>
<rect x="407.3" y="156.9" width="22.4" height="3"/>
<!-- big cooling tower -->
<rect x="437.5" y="121.8" width="21.7" height="1.9"/>
<path d="M439.2,123 H457.6 C458,137 459.5,147 465.5,160 H429 C436.5,149 439,137 439.2,123 Z"/>
<circle cx="453.6" cy="101" r="6.1"/><circle cx="460.9" cy="105.9" r="6.7"/><circle cx="446.3" cy="107.1" r="6.7"/><circle cx="442.6" cy="115.6" r="4.3"/><circle cx="452.4" cy="110.7" r="6.1"/>
<!-- small cooling tower -->
<rect x="462.2" y="131.7" width="15.9" height="1.8"/>
<path d="M463.6,133 H476.8 C477,141 478.5,147 483,152 V160 H458 C462,150 463.4,141 463.6,133 Z"/>
<circle cx="477.8" cy="121.1" r="3.9"/><circle cx="481.7" cy="123.5" r="3.7"/><circle cx="473.7" cy="124.8" r="3.7"/><circle cx="472.5" cy="127.8" r="2.4"/>
<!-- thin pipe + smoke -->
<rect x="483.6" y="129.6" width="1.7" height="19"/>
<circle cx="486.5" cy="127.3" r="2.3"/><circle cx="484.6" cy="129" r="1.5"/>
<!-- tall chimney -->
<rect x="490.1" y="114.2" width="2.6" height="34"/>
<rect x="489.5" y="113.9" width="3.8" height="1"/>
<circle cx="496.3" cy="105.9" r="3.8"/><circle cx="493.4" cy="110" r="3"/><circle cx="494" cy="106.5" r="3"/>
<!-- small building -->
<rect x="482.3" y="148.8" width="14.7" height="11.4"/>
<rect x="483.6" y="147.1" width="12.2" height="2"/>
<g fill="#fff">
<rect x="484.3" y="151.1" width="2.7" height="1"/><rect x="488.5" y="151.1" width="2.7" height="1"/><rect x="492.7" y="151.1" width="2.7" height="1"/>
<rect x="484.3" y="153.6" width="2.7" height="1"/><rect x="488.5" y="153.6" width="2.7" height="1"/><rect x="492.7" y="153.6" width="2.7" height="1"/>
<rect x="484.3" y="156.2" width="2.7" height="1"/><rect x="488.5" y="156.2" width="2.7" height="1"/><rect x="492.7" y="156.2" width="2.7" height="1"/>
</g>
<!-- right pylon -->
<g fill="none" stroke="#8f7a45">
<path d="M494.6,135.4 V132.5 Q494.9,128.6 500.6,128.6 H512.4 Q518.2,128.6 518.6,132.5 V135.4" stroke-width="1.1"/>
<path d="M499.8,128.8 L504.2,137 M513.2,128.8 L508.6,137" stroke-width="1.1"/>
<path d="M506.3,129.5 V134" stroke-width="1.2"/>
<path d="M504,137 V159.5 M508.8,137 V159.5" stroke-width="1"/>
<path d="M504,138 L508.8,141 L504,144 L508.8,147 L504,150 L508.8,153 L504,156 L508.8,159 M508.8,138 L504,141 L508.8,144 L504,147 L508.8,150 L504,153 L508.8,156 L504,159" stroke-width="0.7"/>
</g>
</g>

</svg></body></html>
